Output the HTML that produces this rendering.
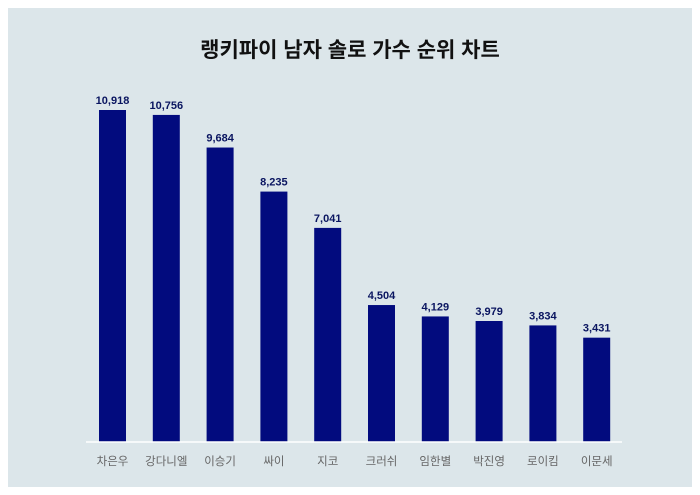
<!DOCTYPE html>
<html><head><meta charset="utf-8"><style>
html,body{margin:0;padding:0;background:#fff;}
svg{display:block;font-family:"Liberation Sans","Noto Sans CJK KR",sans-serif;}
</style></head><body>
<svg width="700" height="495">
<rect x="8" y="8" width="684" height="479" fill="#dce6ea"/>
<text x="350" y="57" text-anchor="middle" font-size="21" font-weight="bold" fill="#111">랭키파이 남자 솔로 가수 순위 차트</text>
<g id="bars"></g>
<line x1="86" y1="442" x2="622" y2="442" stroke="#ffffff" stroke-width="1.5"/>
</svg>
<script>
const categories=["차은우","강다니엘","이승기","싸이","지코","크러쉬","임한별","박진영","로이킴","이문세"];
const values=[10918,10756,9684,8235,7041,4504,4129,3979,3834,3431];
const labels=["10,918","10,756","9,684","8,235","7,041","4,504","4,129","3,979","3,834","3,431"];
const base=442, scale=(442-110)/10918;
const x=i=>112.5+i*53.8;
const y=v=>base-v*scale;
const g=document.getElementById('bars');
const ns='http://www.w3.org/2000/svg';
values.forEach((v,i)=>{
  const r=document.createElementNS(ns,'rect');
  r.setAttribute('x',x(i)-13.5);r.setAttribute('y',y(v));
  r.setAttribute('width',27);r.setAttribute('height',base-y(v));
  r.setAttribute('fill','#020b7e');
  
  
  g.appendChild(r);
  const t=document.createElementNS(ns,'text');
  t.setAttribute('x',x(i));t.setAttribute('y',y(v)-6);
  t.setAttribute('text-anchor','middle');t.setAttribute('font-size','11');
  t.setAttribute('font-weight','bold');t.setAttribute('fill','#0a1560');
  t.textContent=labels[i];
  
  
  g.appendChild(t);
  const c=document.createElementNS(ns,'text');
  c.setAttribute('x',x(i));c.setAttribute('y',465);
  c.setAttribute('text-anchor','middle');c.setAttribute('font-size','11.5');
  c.setAttribute('fill','#666');
  c.textContent=categories[i];
  
  
  g.appendChild(c);
});
</script>
</body></html>
